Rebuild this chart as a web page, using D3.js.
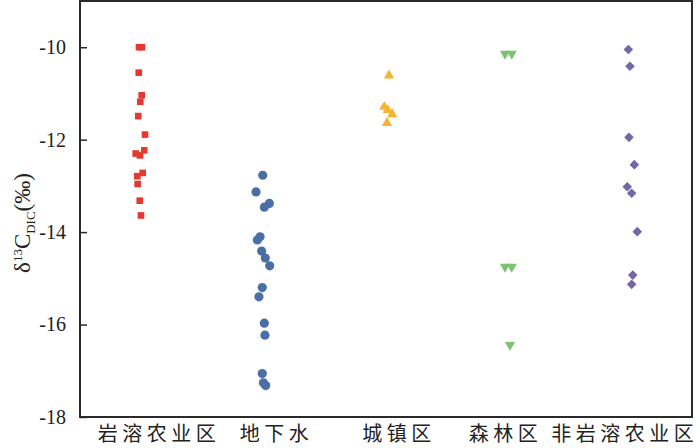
<!DOCTYPE html>
<html>
<head>
<meta charset="utf-8">
<script src="https://cdn.jsdelivr.net/npm/d3@7"></script>
<style>
  body { margin: 0; background: #fff; }
  .tick text { font-family: "Liberation Serif", serif; font-size: 20px; fill: #222; }
  .cat { font-family: "Noto Sans CJK SC", sans-serif; font-size: 20px; letter-spacing: 4.5px; fill: #222; }
</style>
</head>
<body>
<svg width="700" height="448"></svg>
<script>

// categories and point values
var categories = ["岩溶农业区", "地下水", "城镇区", "森林区", "非岩溶农业区"];
var yTicks = [-10, -12, -14, -16, -18];

var karstAgri = [-10.0, -10.0, -10.55, -11.04, -11.18, -11.49, -11.89, -12.23, -12.30, -12.34, -12.72, -12.79, -12.96, -13.32, -13.64];
var karstAgriJitter = [-0.018, 0.007, -0.020, 0.004, -0.007, -0.024, 0.031, 0.025, -0.045, -0.010, 0.012, -0.032, -0.029, -0.012, -0.002];

var groundwater = [-12.77, -13.13, -13.38, -13.46, -14.10, -14.17, -14.41, -14.56, -14.73, -15.20, -15.40, -15.97, -16.23, -17.06, -17.26, -17.32];
var groundwaterJitter = [-0.007, -0.062, 0.047, 0.006, -0.029, -0.051, -0.016, 0.014, 0.050, -0.011, -0.038, 0.006, 0.011, -0.011, -0.002, 0.017];

var urban = [-10.61, -11.29, -11.36, -11.45, -11.64];
var urbanJitter = [0.025, -0.014, 0.014, 0.051, 0.008];

var forest = [-10.14, -10.14, -14.75, -14.75, -16.44];
var forestJitter = [-0.028, 0.027, -0.028, 0.027, 0.013];

var nonKarstAgri = [-10.05, -10.41, -11.95, -12.54, -13.02, -13.16, -13.99, -14.93, -15.13];
var nonKarstAgriJitter = [-0.020, -0.007, -0.015, 0.029, -0.029, 0.007, 0.053, 0.016, 0.007];

var series = [
  {values: karstAgri, jitter: karstAgriJitter, color: "#e5392f", symbol: d3.symbolSquare, size: 44, rotate: 0},
  {values: groundwater, jitter: groundwaterJitter, color: "#4a6ea6", symbol: d3.symbolCircle, size: 66, rotate: 0},
  {values: urban, jitter: urbanJitter, color: "#f5b52e", symbol: d3.symbolTriangle, size: 46, rotate: 0},
  {values: forest, jitter: forestJitter, color: "#7cc46f", symbol: d3.symbolTriangle, size: 46, rotate: 180},
  {values: nonKarstAgri, jitter: nonKarstAgriJitter, color: "#7567a5", symbol: d3.symbolSquare, size: 46, rotate: 45}
];

var svg = d3.select("svg"),
    margin = {top: 1, right: 8, bottom: 31, left: 80},
    width = +svg.attr("width") - margin.left - margin.right,
    height = +svg.attr("height") - margin.top - margin.bottom;

var x = d3.scaleLinear().domain([0, categories.length]).range([0, width]);
var y = d3.scaleLinear().domain([-18, -9]).range([height, 0]);

var g = svg.append("g")
    .attr("transform", "translate(" + margin.left + "," + margin.top + ")");

// frame
g.append("rect")
    .attr("width", width)
    .attr("height", height)
    .attr("fill", "none")
    .attr("stroke", "#2a2a2a")
    .attr("stroke-width", 2);

var yAxis = d3.axisLeft(y)
    .tickValues(yTicks)
    .tickSize(-7)
    .tickPadding(14)
    .tickFormat(d3.format("d"));

var ya = g.append("g")
    .attr("class", "axis axis--y")
    .call(yAxis);
ya.select(".domain").remove();
ya.selectAll(".tick line").attr("stroke", "#2a2a2a").attr("stroke-width", 1.5);
ya.selectAll(".tick text").text(function(d) { return "-" + Math.abs(d); });

// points
series.forEach(function(s, i) {
  g.append("g").selectAll("path")
    .data(s.values)
    .enter().append("path")
      .attr("d", d3.symbol().type(s.symbol).size(s.size))
      .attr("fill", s.color)
      .attr("transform", function(d, j) {
        return "translate(" + x(i + 0.5 + s.jitter[j]) + "," + y(d) + ") rotate(" + s.rotate + ")";
      });
});

// category labels (slightly shifted like the original)
var labelShift = [0.13, 0.09, 0.09, -0.04, -0.065];
g.selectAll(".cat")
  .data(categories)
  .enter().append("text")
    .attr("class", "cat")
    .attr("x", function(d, i) { return x(i + 0.5 + labelShift[i]) + 2; })
    .attr("y", height + 24)
    .attr("text-anchor", "middle")
    .text(function(d) { return d; });

// y label
var yl = svg.append("text")
    .attr("transform", "translate(30," + (margin.top + height / 2 + 14) + ") rotate(-90)")
    .attr("text-anchor", "middle")
    .style("font-family", "Liberation Serif, serif")
    .style("font-size", "23px")
    .attr("fill", "#222");
yl.append("tspan").text("δ");
yl.append("tspan").attr("dy", -8).style("font-size", "13px").text("13");
yl.append("tspan").attr("dy", 8).text("C");
yl.append("tspan").attr("dy", 5).style("font-size", "13px").text("DIC");
yl.append("tspan").attr("dy", -5).text("(‰)");

</script>
</body>
</html>
